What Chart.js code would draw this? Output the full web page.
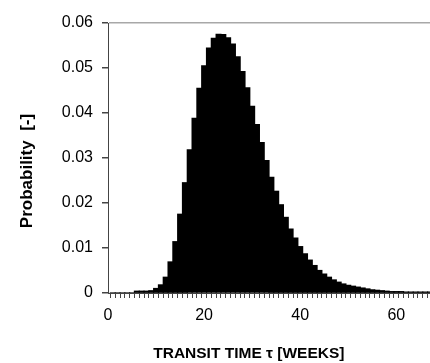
<!DOCTYPE html>
<html>
<head>
<meta charset="utf-8">
<script src="https://cdn.jsdelivr.net/npm/chart.js@4.4.1/dist/chart.umd.min.js"></script>
<style>
  html, body { margin: 0; padding: 0; background: #fff; }
  #chart { display: block; }
</style>
</head>
<body>
<canvas id="chart" width="430" height="363"></canvas>
<script>
// Transit time distribution, one bar per week
const WEEKS = [
  1, 2, 3, 4, 5, 6, 7, 8, 9, 10,
  11, 12, 13, 14, 15, 16, 17, 18, 19, 20,
  21, 22, 23, 24, 25, 26, 27, 28, 29, 30,
  31, 32, 33, 34, 35, 36, 37, 38, 39, 40,
  41, 42, 43, 44, 45, 46, 47, 48, 49, 50,
  51, 52, 53, 54, 55, 56, 57, 58, 59, 60,
  61, 62, 63, 64, 65, 66, 67
];
const PROBABILITY = [
  0, 0, 0, 0, 0, 0.0004, 0.0004, 0.0004, 0.0005, 0.0010,
  0.0018, 0.0035, 0.0069, 0.0114, 0.0175, 0.0245, 0.0318, 0.0388, 0.0455, 0.0505,
  0.0544, 0.0566, 0.0575, 0.0574, 0.0567, 0.0553, 0.0525, 0.0492, 0.0456, 0.0415,
  0.0374, 0.0334, 0.0294, 0.0257, 0.0226, 0.0196, 0.0168, 0.0142, 0.0122, 0.0103,
  0.0087, 0.0073, 0.0061, 0.0050, 0.0042, 0.0035, 0.0029, 0.0024, 0.0020, 0.0017,
  0.0015, 0.0013, 0.0011, 0.0009, 0.0007, 0.0006, 0.0005, 0.0004, 0.0003, 0.0003,
  0.0003, 0.0002, 0.0002, 0.0002, 0.0002, 0.0002, 0.0002
];
// Axis ranges and labelled ticks
const X_MIN = 0;
const X_MAX = 67;
const X_LABELS = [0, 20, 40, 60];
const Y_MIN = 0;
const Y_MAX = 0.06;
const Y_STEP = 0.01;

const X_TITLE = 'TRANSIT TIME \u03c4 [WEEKS]';
const Y_TITLE = 'Probability  [-]';
const FONT = "'Liberation Sans', Arial, sans-serif";

// Axis titles drawn by hand, the original ones are not centred on the plot
const axisTitles = {
  id: 'axisTitles',
  afterDraw(chart) {
    const ctx = chart.ctx;
    const area = chart.chartArea;
    ctx.save();
    ctx.fillStyle = '#000';
    ctx.font = 'bold 15.5px ' + FONT;
    ctx.textAlign = 'center';
    ctx.textBaseline = 'alphabetic';
    ctx.fillText(X_TITLE, chart.scales.x.getPixelForValue(29.3), area.bottom + 65);

    ctx.font = 'bold 17px ' + FONT;
    ctx.translate(area.left - 81, (area.top + area.bottom) / 2 + 13);
    ctx.rotate(-Math.PI / 2);
    ctx.textBaseline = 'middle';
    ctx.fillText(Y_TITLE, 0, 0);
    ctx.restore();
  }
};

const points = WEEKS.map((w, i) => ({ x: w, y: PROBABILITY[i] }));

new Chart(document.getElementById('chart'), {
  type: 'bar',
  data: {
    datasets: [{
      data: points,
      backgroundColor: '#000',
      borderWidth: 0,
      inflateAmount: 0.6,
      barPercentage: 1,
      categoryPercentage: 1
    }]
  },
  options: {
    responsive: false,
    animation: false,
    layout: {
      padding: { left: 62, right: 0, top: 23, bottom: 30 }
    },
    plugins: {
      legend: { display: false },
      tooltip: { enabled: false },
      title: { display: false }
    },
    scales: {
      x: {
        type: 'linear',
        min: X_MIN,
        max: X_MAX,
        offset: false,
        afterFit: s => { s.height = 40; s.paddingRight = 0; s.paddingLeft = 0; },
        border: { display: true, color: '#444', width: 1 },
        grid: {
          color: 'rgba(0,0,0,0)',
          tickColor: '#444',
          tickLength: 5,
          drawTicks: true
        },
        ticks: {
          stepSize: 1,
          autoSkip: false,
          maxRotation: 0,
          maxTicksLimit: 200,
          padding: 8,
          color: '#000',
          font: { family: FONT, size: 16 },
          callback: v => X_LABELS.includes(v) ? String(v) : ''
        }
      },
      y: {
        min: Y_MIN,
        max: Y_MAX,
        afterFit: s => { s.width = 46; },
        border: { display: true, color: '#444', width: 1 },
        grid: {
          color: c => (c.tick && Math.abs(c.tick.value - Y_MAX) < 1e-9) ? '#a8a8a8' : 'rgba(0,0,0,0)',
          lineWidth: 1.5,
          tickColor: '#444',
          tickLength: 6
        },
        ticks: {
          stepSize: Y_STEP,
          padding: 9,
          color: '#000',
          font: { family: FONT, size: 16 }
        }
      }
    }
  },
  plugins: [axisTitles]
});
</script>
</body>
</html>
